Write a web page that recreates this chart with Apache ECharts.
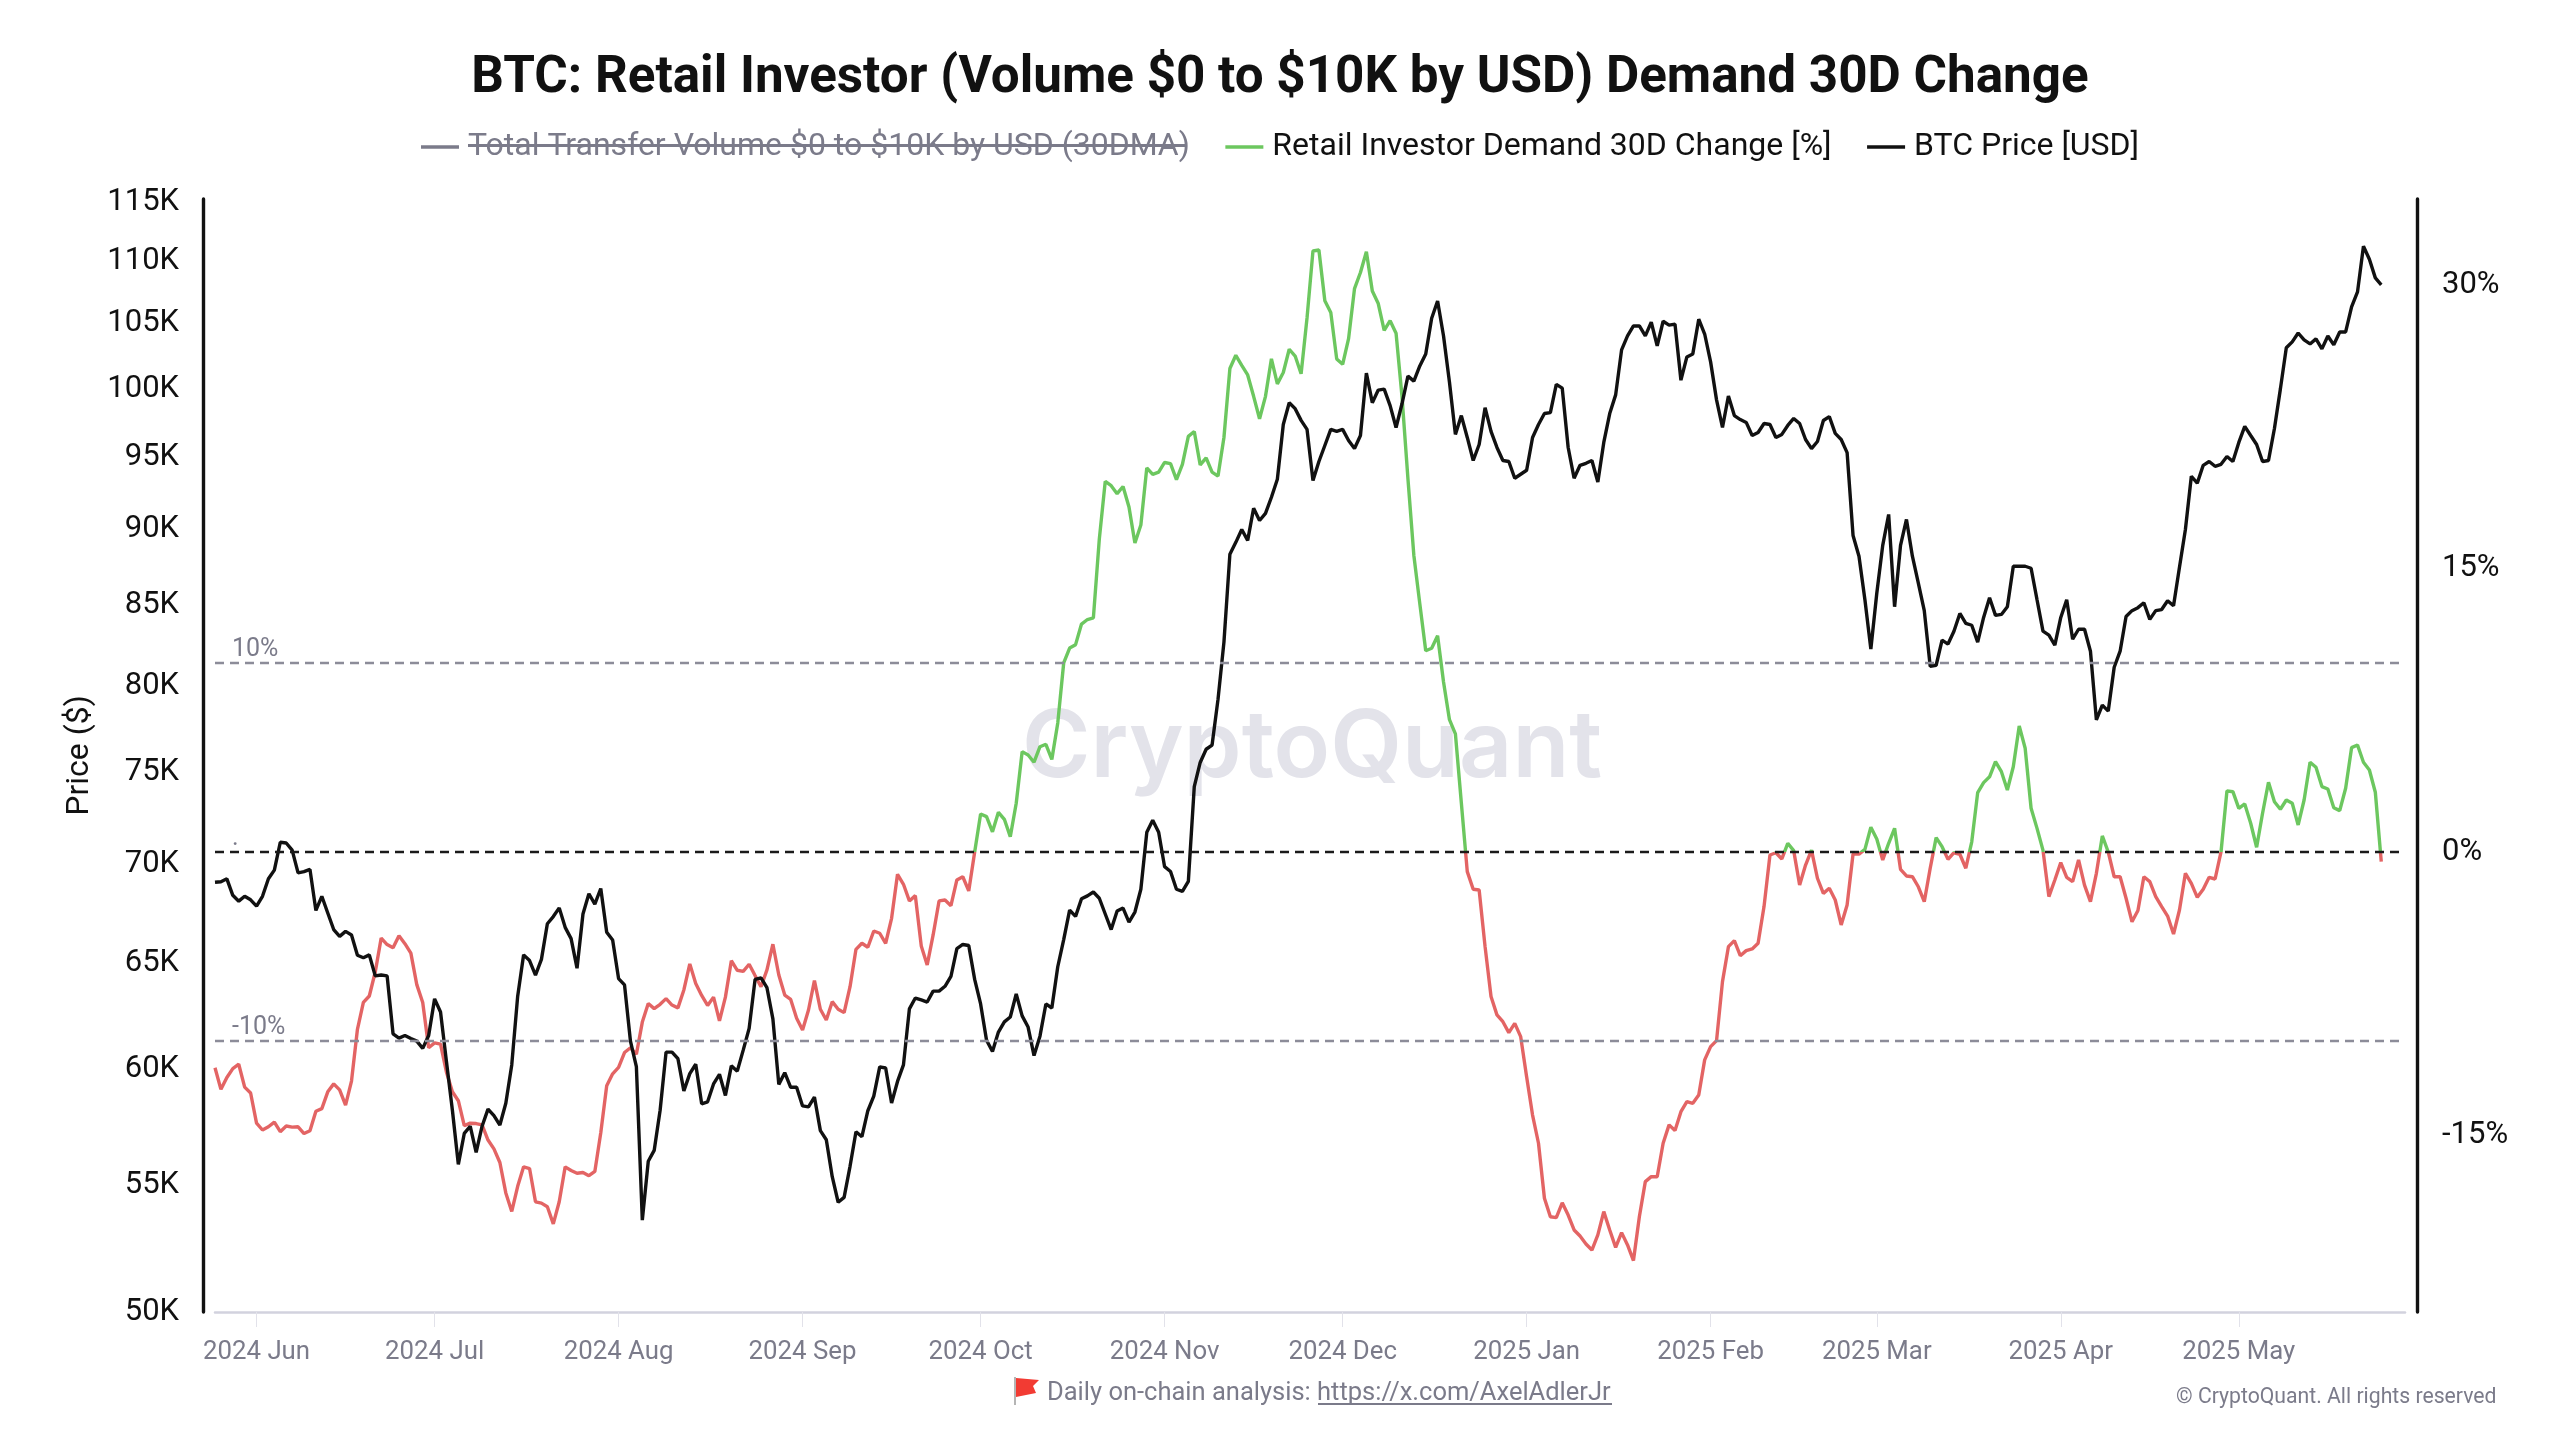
<!DOCTYPE html>
<html>
<head>
<meta charset="utf-8">
<title>BTC Retail Investor Demand</title>
<style>html,body{margin:0;padding:0;background:#fff}#chart{width:2560px;height:1440px}</style>
<script src="https://cdn.jsdelivr.net/npm/echarts@6/dist/echarts.min.js"></script>
</head>
<body>
<div id="chart"></div>
<script>
const titleText = 'BTC: Retail Investor (Volume $0 to $10K by USD) Demand 30D Change';
const legendNames = ['Total Transfer Volume $0 to $10K by USD (30DMA)', 'Retail Investor Demand 30D Change [%]', 'BTC Price [USD]'];
const firstDay = '2024-05-25';
const axisDays = 370;
const priceTicks = [50, 55, 60, 65, 70, 75, 80, 85, 90, 95, 100, 105, 110, 115];
const demandTicks = [-15, 0, 15, 30];
const demandLevels = [10, -10];

// Daily BTC close, thousands of USD
const btcPrice = [
68.87,68.9,69.05,68.2,67.9,68.15,67.97,67.65,68.15,69.05,69.5,70.97,70.93,70.55,69.36,69.42,69.54,67.43,68.15,67.3,
66.47,66.13,66.38,66.2,65.2,65.08,65.22,64.2,64.24,64.2,61.47,61.27,61.39,61.25,61.13,60.8,61.39,63.1,62.48,60.2,
58.04,55.73,57.04,57.35,56.24,57.35,58.09,57.81,57.4,58.35,60.05,63.23,65.22,64.94,64.24,65.0,66.76,67.12,67.56,66.58,
66.02,64.57,67.25,68.28,67.75,68.55,66.34,65.95,64.07,63.77,61.13,59.97,53.45,55.86,56.32,58.04,60.63,60.63,60.33,58.89,
59.66,60.08,58.32,58.41,59.2,59.63,58.69,60.01,59.77,60.72,61.72,64.03,64.1,63.63,62.16,59.18,59.7,59.05,59.05,58.23,
58.19,58.62,57.16,56.77,55.22,54.17,54.37,55.65,57.11,56.9,58.02,58.66,59.96,59.91,58.36,59.31,60.05,62.63,63.14,63.05,
62.95,63.47,63.47,63.7,64.17,65.53,65.73,65.68,64.03,62.86,61.17,60.66,61.55,62.02,62.25,63.33,62.3,61.78,60.47,61.36,
62.86,62.67,64.64,65.97,67.45,67.13,68.02,68.17,68.37,68.05,67.25,66.47,67.4,67.55,66.84,67.35,68.51,71.5,72.15,71.5,
69.68,69.43,68.51,68.4,68.92,74.0,75.35,76.1,76.34,79.0,82.47,88.09,88.88,89.74,89.01,91.18,90.35,90.83,91.94,93.19,
97.1,98.7,98.26,97.4,96.74,93.1,94.44,95.58,96.74,96.6,96.74,95.94,95.36,96.3,100.92,98.7,99.64,99.71,98.48,96.88,
98.62,100.69,100.31,101.46,102.38,105.16,106.53,103.77,100.23,96.38,97.75,96.16,94.51,95.65,98.33,96.6,95.44,94.51,94.44,93.26,
93.54,93.82,96.16,97.1,97.9,97.97,100.07,99.78,95.44,93.26,94.17,94.31,94.51,92.99,95.8,97.9,99.28,102.69,103.77,104.55,
104.55,103.77,104.85,103.0,104.92,104.62,104.69,100.38,102.15,102.38,105.08,103.92,101.77,98.91,96.88,99.2,97.75,97.46,97.25,96.3,
96.52,97.17,97.1,96.16,96.38,97.03,97.54,97.17,96.01,95.36,95.87,97.39,97.68,96.45,96.01,95.07,89.34,87.96,85.13,82.04,
85.55,88.68,90.76,84.69,88.68,90.42,87.96,86.2,84.44,80.99,81.05,82.59,82.35,83.15,84.26,83.64,83.52,82.47,84.01,85.26,
84.14,84.2,84.69,87.3,87.3,87.3,87.17,85.13,83.15,82.9,82.28,84.01,85.13,82.65,83.27,83.27,81.91,77.79,78.66,78.31,
80.93,81.91,84.07,84.44,84.63,84.94,83.89,84.44,84.51,85.07,84.75,87.24,89.74,93.4,92.92,94.17,94.44,94.1,94.24,94.79,
94.44,95.8,96.96,96.3,95.65,94.44,94.51,96.81,99.71,102.85,103.31,104.0,103.46,103.15,103.54,102.77,103.77,103.08,104.08,104.08,
106.05,107.26,111.0,109.92,108.39,107.83
];

// Retail investor demand, 30-day change in percent
const demandChange = [
-11.42,-12.56,-11.93,-11.46,-11.23,-12.44,-12.75,-14.35,-14.71,-14.54,-14.29,-14.8,-14.5,-14.56,-14.54,-14.9,-14.75,-13.72,-13.58,-12.69,
-12.27,-12.59,-13.39,-12.12,-9.38,-7.96,-7.62,-6.35,-4.56,-4.9,-5.07,-4.43,-4.85,-5.35,-7.02,-7.96,-10.36,-10.1,-10.17,-11.65,
-12.69,-13.16,-14.48,-14.35,-14.37,-14.44,-15.24,-15.71,-16.43,-18.04,-19.02,-17.69,-16.66,-16.75,-18.51,-18.58,-18.77,-19.68,-18.51,-16.66,
-16.85,-17,-16.96,-17.13,-16.9,-14.86,-12.37,-11.74,-11.4,-10.61,-10.36,-10.7,-9.0,-8.02,-8.29,-8.06,-7.76,-8.1,-8.25,-7.3,
-5.92,-6.96,-7.59,-8.12,-7.68,-8.94,-7.68,-5.75,-6.26,-6.32,-5.94,-6.54,-7.13,-6.24,-4.88,-6.51,-7.57,-7.8,-8.8,-9.42,
-8.36,-6.81,-8.32,-8.89,-7.92,-8.32,-8.5,-7.13,-5.15,-4.83,-5.04,-4.18,-4.3,-4.83,-3.51,-1.18,-1.71,-2.59,-2.31,-4.97,
-5.98,-4.39,-2.59,-2.54,-2.84,-1.48,-1.31,-2.06,0,2.01,1.87,1.07,2.1,1.73,0.81,2.58,5.31,5.13,4.75,5.57,
5.7,4.9,6.83,10.0,10.79,10.97,12.06,12.3,12.39,16.55,19.61,19.38,18.96,19.34,18.25,16.35,17.3,20.32,19.98,20.1,
20.61,20.55,19.7,20.51,21.99,22.25,20.48,20.85,20.1,19.89,21.93,25.58,26.28,25.75,25.24,24.11,22.92,24.11,26.09,24.77,
25.37,26.6,26.24,25.3,28.26,31.8,31.85,29.17,28.55,26.09,25.8,27.16,29.81,30.66,31.76,29.68,29.02,27.6,28.11,27.45,
24.11,19.76,15.69,13.14,10.65,10.78,11.44,8.99,7.0,6.25,2.6,-1.04,-1.97,-2.01,-5.01,-7.65,-8.62,-8.98,-9.56,-9.07,
-9.77,-11.89,-13.92,-15.41,-18.32,-19.3,-19.35,-18.56,-19.21,-20.0,-20.32,-20.74,-21.06,-20.26,-19.03,-20.0,-20.92,-20.14,-20.79,-21.62,
-19.29,-17.44,-17.18,-17.18,-15.41,-14.44,-14.74,-13.74,-13.21,-13.3,-12.86,-11.0,-10.3,-9.98,-6.86,-5.01,-4.69,-5.49,-5.22,-5.13,
-4.83,-2.89,-0.16,-0.04,-0.37,0.46,0.07,-1.75,-0.69,0.1,-1.39,-2.19,-1.92,-2.54,-3.86,-2.8,-0.11,-0.11,0.14,1.31,
0.69,-0.42,0.46,1.25,-0.92,-1.27,-1.31,-1.84,-2.63,-0.86,0.76,0.28,-0.39,-0.04,-0.12,-0.86,0.54,3.14,3.67,3.98,
4.78,4.25,3.28,4.51,6.67,5.49,2.31,1.25,0.1,-2.36,-1.48,-0.56,-1.34,-1.57,-0.42,-1.75,-2.63,-1.13,0.85,0,
-1.31,-1.31,-2.45,-3.69,-3.1,-1.31,-1.57,-2.36,-2.89,-3.39,-4.34,-3.07,-1.13,-1.66,-2.4,-1.97,-1.34,-1.43,0,3.23,
3.19,2.31,2.54,1.52,0.25,2.05,3.69,2.66,2.26,2.75,2.58,1.43,2.75,4.75,4.48,3.46,3.33,2.34,2.19,3.37,
5.52,5.66,4.75,4.34,3.16,-0.51
];

const INK = '#111111';
const MUTED = '#7b7b8a';
const GREEN = '#6cc75f';
const RED = '#e36464';
const FONT = 'Roboto';

// Calendar days along the bottom axis
const dates = [];
{
  const t0 = Date.parse(firstDay + 'T00:00:00Z');
  for (let i = 0; i < axisDays; i++) {
    dates.push(new Date(t0 + i * 86400000).toISOString().slice(0, 10));
  }
}
const monthNames = ['Jan','Feb','Mar','Apr','May','Jun','Jul','Aug','Sep','Oct','Nov','Dec'];
const isMonthStart = (index, value) => value.endsWith('-01');
const monthLabel = (value) => value.slice(0, 4) + ' ' + monthNames[+value.slice(5, 7) - 1];

const levelLabel = (text) => ({
  show: true, position: 'insideStartTop', formatter: text,
  color: MUTED, fontFamily: FONT, fontSize: 25, distance: [17, 1]
});

const chart = echarts.init(document.getElementById('chart'), null, { renderer: 'canvas' });
chart.setOption({
  animation: false,
  backgroundColor: '#ffffff',
  textStyle: { fontFamily: FONT },
  title: {
    text: titleText, left: 'center', top: 49,
    textStyle: { color: INK, fontFamily: FONT, fontWeight: 'bold', fontSize: 51.2 }
  },
  legend: {
    left: 416, top: 126, icon: 'rect', itemWidth: 38, itemHeight: 3.4, itemGap: 35.5,
    selected: { [legendNames[0]]: false },
    selectedMode: false,
    inactiveColor: MUTED,
    textStyle: { color: INK, fontFamily: FONT, fontSize: 32, padding: [0, 0, 0, 4] },
    data: [
      { name: legendNames[0], itemStyle: { color: MUTED }, textStyle: { color: MUTED } },
      { name: legendNames[1], itemStyle: { color: GREEN } },
      { name: legendNames[2], itemStyle: { color: INK } }
    ]
  },
  grid: { left: 215, right: 155, top: 199, bottom: 128 },
  xAxis: {
    type: 'category', boundaryGap: false, data: dates,
    axisLine: { show: true, onZero: false, lineStyle: { color: '#d2d2de', width: 2.5 } },
    axisTick: { show: true, interval: isMonthStart, length: 15, lineStyle: { color: '#e2e2ea', width: 1 } },
    axisLabel: {
      interval: isMonthStart, formatter: monthLabel, color: MUTED,
      fontFamily: FONT, fontSize: 25.8, margin: 28
    },
    splitLine: { show: false }
  },
  yAxis: [
    {
      type: 'log', min: 49887.6, max: 115000, position: 'left', offset: 12,
      name: 'Price ($)', nameLocation: 'middle', nameGap: 107, nameRotate: 90,
      nameTextStyle: { color: INK, fontFamily: FONT, fontSize: 32 },
      axisLine: { show: true, onZero: false, lineStyle: { color: INK, width: 3.4 } },
      axisTick: { show: false },
      splitLine: { show: false },
      axisLabel: {
        customValues: priceTicks.map(v => v * 1000),
        formatter: (v) => '{tick|' + Math.round(v / 1000) + 'K}',
        margin: 24,
        rich: { tick: { color: INK, fontFamily: FONT, fontSize: 31, padding: [7, 0, 0, 0] } }
      }
    },
    {
      type: 'value', min: -24.34, max: 34.55, position: 'right', offset: 12,
      axisLine: { show: true, onZero: false, lineStyle: { color: INK, width: 3.4 } },
      axisTick: { show: false },
      splitLine: { show: false },
      axisLabel: {
        customValues: demandTicks,
        formatter: (v) => v + '%',
        color: INK, fontFamily: FONT, fontSize: 31, margin: 25, padding: [0, 0, 6, 0]
      }
    }
  ],
  visualMap: {
    show: false, type: 'piecewise', seriesIndex: 1, dimension: 1,
    pieces: [{ min: 0, max: 40, color: GREEN }, { min: -40, max: 0, color: RED }]
  },
  series: [
    {
      name: legendNames[0], type: 'line', yAxisIndex: 0, data: [],
      showSymbol: false, lineStyle: { color: MUTED }, itemStyle: { color: MUTED }
    },
    {
      name: legendNames[1], type: 'line', yAxisIndex: 1, data: demandChange,
      showSymbol: false, z: 3, lineStyle: { width: 3.4 }, itemStyle: { color: GREEN },
      markLine: {
        silent: true, symbol: 'none', animation: false, precision: 2,
        data: [
          { yAxis: demandLevels[0], lineStyle: { color: '#8c8c99', width: 2.4, type: [9, 6] }, label: levelLabel('10%') },
          { yAxis: demandLevels[1], lineStyle: { color: '#8c8c99', width: 2.4, type: [9, 6] }, label: levelLabel('-10%') },
          { yAxis: 0, lineStyle: { color: '#1a1a1a', width: 2.4, type: [9, 6] }, label: levelLabel('.') }
        ]
      }
    },
    {
      name: legendNames[2], type: 'line', yAxisIndex: 0,
      data: btcPrice.map(v => v * 1000),
      showSymbol: false, z: 4, lineStyle: { color: INK, width: 3.4 }, itemStyle: { color: INK }
    }
  ],
  graphic: [
    // brand mark behind the lines
    { type: 'text', z: 0, silent: true, left: 1022, top: 703,
      style: { text: 'CryptoQuant', fill: '#e3e3ea', font: '600 93px Inter' } },
    // strike-through on the switched-off legend entry
    { type: 'rect', z: 10, silent: true, shape: { x: 468, y: 144, width: 719, height: 3 }, style: { fill: MUTED } },
    // footer
    { type: 'polygon', z: 10, silent: true,
      shape: { points: [[1016, 1378], [1039, 1380], [1033, 1386], [1036, 1393], [1016, 1397]] }, style: { fill: '#f23b33' } },
    { type: 'rect', z: 10, silent: true, shape: { x: 1014, y: 1377, width: 2, height: 28 }, style: { fill: '#b5b5b5' } },
    { type: 'text', z: 10, silent: true, left: 1047, top: 1381,
      style: { text: 'Daily on-chain analysis: https://x.com/AxelAdlerJr', fill: MUTED, font: '25.5px Roboto' } },
    { type: 'rect', z: 10, silent: true, shape: { x: 1318, y: 1403, width: 294, height: 2 }, style: { fill: MUTED } },
    { type: 'text', z: 10, silent: true, left: 2176, top: 1387,
      style: { text: '\u00A9 CryptoQuant. All rights reserved', fill: MUTED, font: '21.2px Roboto' } }
  ]
});
</script>
</body>
</html>
